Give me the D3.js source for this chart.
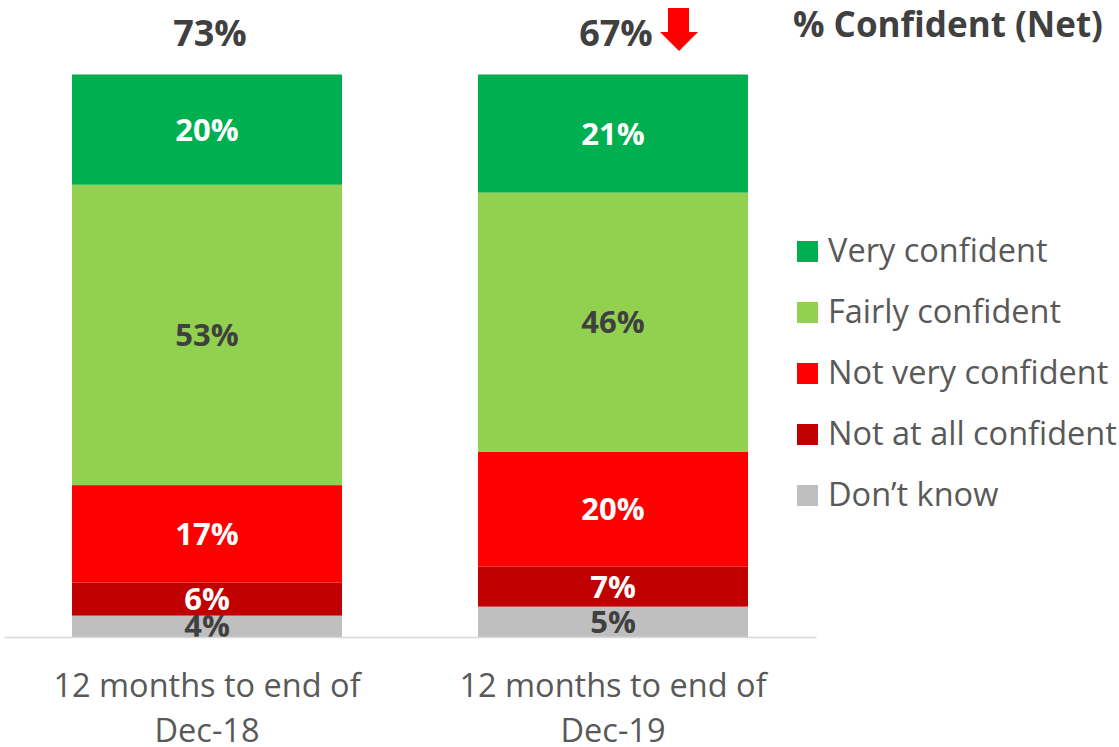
<!DOCTYPE html>
<html>
<head>
<meta charset="utf-8">
<style>
  html, body { margin: 0; padding: 0; background: #fff; }
  svg { display: block; font-family: 'Open Sans', sans-serif; }
</style>
<script src="https://cdn.jsdelivr.net/npm/d3@7"></script>
</head>
<body>
<div id="chartContainer"></div>
<script>
// chart data
var categories      = ['12 months to end of\nDec-18', '12 months to end of\nDec-19'],
    seriesNames     = ['Very confident', 'Fairly confident', 'Not very confident', 'Not at all confident', 'Don\u2019t know'],
    veryConfident   = [19.6, 21.0],
    fairlyConfident = [53.4, 46.1],
    notVery         = [17.3, 20.4],
    notAtAll        = [5.9, 7.1],
    dontKnow        = [3.8, 5.4],
    netChange       = [null, 'down'],
    netTitle        = '% Confident (Net)';

var width   = 1119,
    height  = 747,
    colors  = ['#00b050', '#92d050', '#ff0000', '#c00000', '#bfbfbf'],
    inkDark = ['#fff', '#404040', '#fff', '#fff', '#404040'],
    svg     = d3.select('#chartContainer').append('svg')
                .attr('width', width)
                .attr('height', height);

var table = categories.map(function(c, i) {
    return {
        category: c,
        'Very confident': veryConfident[i],
        'Fairly confident': fairlyConfident[i],
        'Not very confident': notVery[i],
        'Not at all confident': notAtAll[i],
        'Don\u2019t know': dontKnow[i]
    };
});

draw(table);

function draw(data) {
    var x = d3.scaleBand()
            .domain(categories)
            .range([4, 816])
            .paddingInner(0.335)
            .paddingOuter(0.1675),
        y = d3.scaleLinear()
            .domain([0, 100])
            .range([637, 74.5]),
        // top of the bar first, so stack from the bottom segment upward
        stack = d3.stack().keys(seriesNames.slice().reverse()),
        layers = stack(data),
        g;

    g = svg.selectAll('g.layer')
        .data(layers)
        .enter()
        .append('g')
        .attr('class', 'layer')
        .attr('fill', function(d) { return colors[seriesNames.indexOf(d.key)]; });

    g.selectAll('rect')
        .data(function(d) { return d; })
        .enter()
        .append('rect')
        .attr('x', function(d) { return x(d.data.category); })
        .attr('width', x.bandwidth())
        .attr('y', function(d) { return y(d[1]); })
        .attr('height', function(d) { return y(d[0]) - y(d[1]); });

    // segment labels
    g.selectAll('text')
        .data(function(d) { return d.map(function(p) { p.key = d.key; return p; }); })
        .enter()
        .append('text')
        .attr('x', function(d) { return x(d.data.category) + x.bandwidth() / 2; })
        .attr('y', function(d) { return (y(d[0]) + y(d[1])) / 2; })
        .attr('dy', '0.36em')
        .attr('text-anchor', 'middle')
        .style('font-size', '31px')
        .style('font-weight', 'bold')
        .style('fill', function(d) { return inkDark[seriesNames.indexOf(d.key)]; })
        .text(function(d) { return Math.round(d[1] - d[0]) + '%'; });

    // x axis with two-line labels
    var axis = svg.append('g')
        .attr('transform', 'translate(0,' + y(0) + ')')
        .call(d3.axisBottom(x).tickSize(0).tickSizeOuter(0));
    axis.select('.domain')
        .attr('stroke', '#d9d9d9')
        .attr('stroke-width', 1.5);
    axis.selectAll('.tick text')
        .style('font-size', '32.5px')
        .style('font-family', "'Open Sans', sans-serif")
        .attr('fill', '#595959')
        .attr('y', 0)
        .attr('dy', null)
        .text(null)
        .each(function(d) {
            var t = d3.select(this);
            d.split('\n').forEach(function(line, i) {
                t.append('tspan')
                    .attr('x', 0)
                    .attr('y', 60 + i * 45)
                    .text(line);
            });
        });

    // net confident totals above the bars
    var totals = svg.selectAll('g.total')
        .data(data)
        .enter()
        .append('g')
        .attr('class', 'total')
        .attr('transform', function(d) {
            return 'translate(' + (x(d.category) + x.bandwidth() / 2) + ',46)';
        });
    totals.append('text')
        .attr('text-anchor', 'middle')
        .attr('x', 3)
        .style('font-size', '36px')
        .style('font-weight', 'bold')
        .style('fill', '#404040')
        .text(function(d) {
            return Math.round(d['Very confident'] + d['Fairly confident']) + '%';
        });
    totals.filter(function(d, i) { return netChange[i] === 'down'; })
        .append('path')
        .attr('fill', '#ff0000')
        .attr('d', 'M55,-38 H76 V-14 H85 L66,5 L47,-14 H55 Z');

    svg.append('text')
        .attr('x', 793)
        .attr('y', 37)
        .style('font-size', '35px')
        .style('font-weight', 'bold')
        .style('fill', '#404040')
        .text(netTitle);

    // legend
    var legend = svg.selectAll('g.legend')
        .data(seriesNames)
        .enter()
        .append('g')
        .attr('class', 'legend')
        .attr('transform', function(d, i) { return 'translate(797,' + (241 + i * 61) + ')'; });
    legend.append('rect')
        .attr('width', 21)
        .attr('height', 21)
        .attr('fill', function(d, i) { return colors[i]; });
    legend.append('text')
        .attr('x', 31)
        .attr('y', 21)
        .style('font-size', '32.5px')
        .style('fill', '#595959')
        .text(function(d) { return d; });
}
</script>
</body>
</html>
